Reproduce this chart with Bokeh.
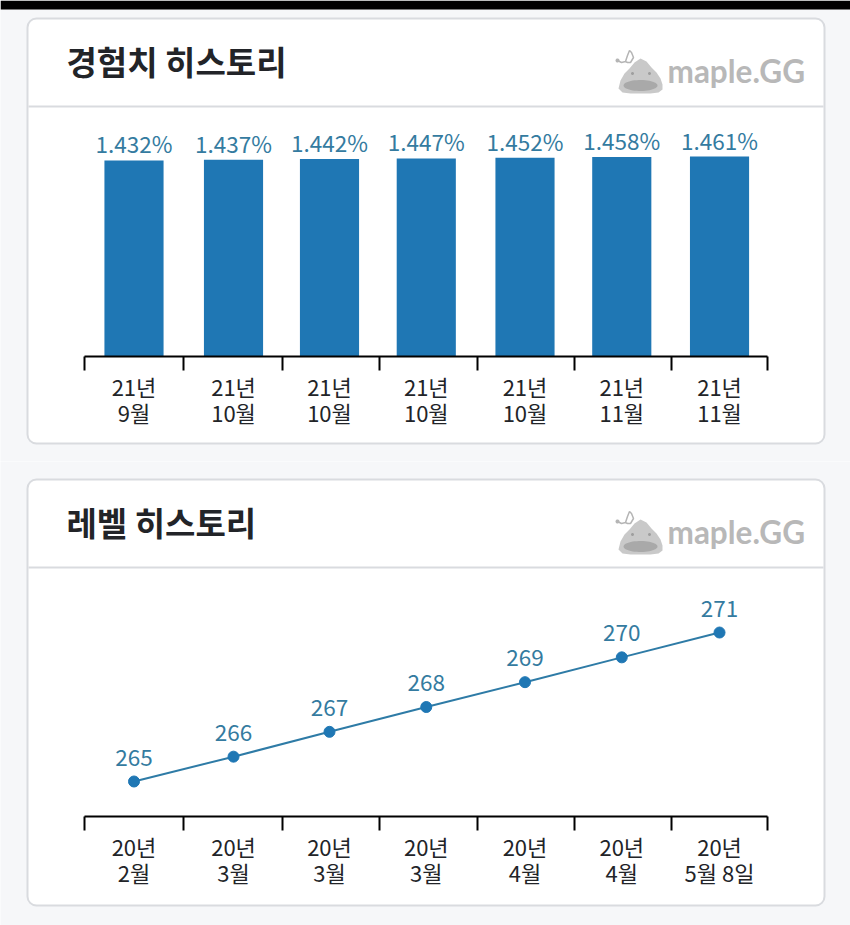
from bokeh.plotting import figure
from bokeh.layouts import column
from bokeh.embed import file_html
from bokeh.resources import INLINE
from bokeh.core.properties import value
from bokeh.models import (BoxAnnotation, Label, PolyAnnotation, LinearAxis, FixedTicker,
                          Range1d, ColumnDataSource)
import numpy as np

# ---- data ----
exp_title = "경험치 히스토리"
exp_values = [1.432, 1.437, 1.442, 1.447, 1.452, 1.458, 1.461]
exp_labels = ["1.432%", "1.437%", "1.442%", "1.447%", "1.452%", "1.458%", "1.461%"]
exp_ticks = ["21년\n9월", "21년\n10월", "21년\n10월", "21년\n10월", "21년\n10월", "21년\n11월", "21년\n11월"]

lvl_title = "레벨 히스토리"
lvl_values = [265, 266, 267, 268, 269, 270, 271]
lvl_labels = ["265", "266", "267", "268", "269", "270", "271"]
lvl_ticks = ["20년\n2월", "20년\n3월", "20년\n3월", "20년\n3월", "20년\n4월", "20년\n4월", "20년\n5월 8일"]

band_centres = [0.0, 1.018, 2.0, 2.99, 4.0, 4.99, 5.99]
band_edges = [-0.506, 0.506, 1.519, 2.51, 3.51, 4.51, 5.5, 6.48]

FONT = "Noto Sans CJK KR"
BLUE = "#1f77b4"
LABEL = "#347ba0"
INK = "#222428"
RULE = "#d9dbdf"
PAGE = "#f6f7f9"
W = 850
PX = 97.75          # pixels per band
X0 = 133.5          # pixel of the first band centre


def box(p, l, t, r, b, fill, line=None, lw=0, radius=0, level="underlay"):
    p.add_layout(BoxAnnotation(left=l, right=r, top=t, bottom=b,
                               left_units="canvas", right_units="canvas",
                               top_units="canvas", bottom_units="canvas",
                               fill_color=fill, fill_alpha=1,
                               line_color=line, line_width=lw, line_alpha=1 if line else 0,
                               border_radius=radius, level=level, editable=False))


def poly(p, xs, ys, fill=None, line=None, lw=1):
    p.add_layout(PolyAnnotation(xs=list(xs), ys=list(ys), xs_units="canvas", ys_units="canvas",
                                fill_color=fill, fill_alpha=1 if fill else 0,
                                line_color=line, line_alpha=1 if line else 0,
                                line_width=lw, level="underlay"))


def logo(p, dy):
    t = np.linspace(0, 2 * np.pi, 50)
    bx = [618, 620, 624, 629, 634, 640, 646, 651, 656, 660, 662, 662, 658, 650, 640, 630, 622, 618]
    by = [88, 80, 73, 68, 62, 58, 61, 67, 72, 78, 84, 89, 92, 93, 93, 93, 92, 88]
    poly(p, bx, [y + dy for y in by], fill="#c9c9c9")
    poly(p, 640 + 17 * np.cos(t), 85 + dy + 5.5 * np.sin(t), fill="#a9a9a9")
    for ex in (632, 649):
        poly(p, ex + 1.5 * np.cos(t), 73 + dy + 1.5 * np.sin(t), fill="#9f9f9f")
    ax = [617, 621, 625, 627, 629, 631, 633, 630, 627, 625]
    ay = [60, 62, 61, 55, 50, 52, 57, 62, 62, 61]
    poly(p, ax + ax[::-1], [y + dy for y in ay + ay[::-1]], line="#b5b5b5", lw=1.5)
    poly(p, 617 + 2 * np.cos(t), 60 + dy + 2 * np.sin(t), fill="#b5b5b5")
    p.add_layout(Label(x=667, y=70 + dy, x_units="canvas", y_units="canvas", text="maple.GG",
                       text_font="Lato", text_font_style="bold", text_font_size="31.5px",
                       text_color="#b8b8b8", text_align="left", text_baseline="middle"))


def card(p, title, top, bottom, divider, dy):
    box(p, 27, top, 824, bottom, "#ffffff", RULE, 2, 9)
    box(p, 28, divider, 823, divider + 2, RULE)
    p.add_layout(Label(x=66, y=top + 42, x_units="canvas", y_units="canvas", text=title,
                       text_font=FONT, text_font_style="bold", text_font_size="33px",
                       text_color=INK, text_align="left", text_baseline="middle"))
    logo(p, dy)


def make(height, axis_y, base, px_per_unit, ticks):
    """The frame fills the whole figure, so the card and logo are not clipped."""
    p = figure(width=W, height=height, output_backend="svg", toolbar_location=None,
               x_range=Range1d(-X0 / PX, (W - X0) / PX),
               y_range=Range1d(base - (height - axis_y) / px_per_unit, base + axis_y / px_per_unit),
               x_axis_type=None, y_axis_type=None,
               min_border_left=0, min_border_right=0, min_border_top=0, min_border_bottom=0,
               background_fill_color=PAGE, border_fill_color=PAGE, outline_line_color=None)
    p.grid.visible = False

    tick_axis = LinearAxis(ticker=FixedTicker(ticks=band_edges), fixed_location=base,
                           bounds=(band_edges[0], band_edges[-1]))
    tick_axis.axis_line_color = "#000000"
    tick_axis.axis_line_width = 2
    tick_axis.major_tick_line_color = "#000000"
    tick_axis.major_tick_line_width = 2
    tick_axis.major_tick_in = 0
    tick_axis.major_tick_out = 14
    tick_axis.minor_tick_line_color = None
    tick_axis.major_label_overrides = {e: "" for e in band_edges}
    p.add_layout(tick_axis, "below")

    label_axis = LinearAxis(ticker=FixedTicker(ticks=band_centres), fixed_location=base)
    label_axis.axis_line_color = None
    label_axis.major_tick_line_color = None
    label_axis.minor_tick_line_color = None
    label_axis.major_tick_in = 0
    label_axis.major_tick_out = 0
    label_axis.major_label_standoff = 13
    label_axis.major_label_overrides = dict(zip(band_centres, ticks))
    label_axis.major_label_text_font = FONT
    label_axis.major_label_text_font_size = "22px"
    label_axis.major_label_text_color = INK
    label_axis.major_label_text_line_height = 0.83
    p.add_layout(label_axis, "below")
    return p


# ---- experience bars ----
p1 = make(461, 356, 0, 200 / 1.461, exp_ticks)
box(p1, 0, 0, W, 9, "#000000")
card(p1, exp_title, 18, 443, 105, 0)
s1 = ColumnDataSource(dict(x=band_centres, y=exp_values, t=exp_labels))
p1.vbar(x="x", top="y", width=0.605, bottom=0, source=s1, fill_color=BLUE, line_color=None)
p1.text(x="x", y="y", text="t", source=s1, text_font=value(FONT), text_font_size="22.5px",
        text_color=LABEL, text_align="center", text_baseline="bottom", y_offset=-1)

# ---- level line ----
p2 = make(464, 816 - 461, 265 - 35 / 24.83, 24.83, lvl_ticks)
card(p2, lvl_title, 479 - 461, 905 - 461, 566 - 461, 0)
s2 = ColumnDataSource(dict(x=band_centres, y=lvl_values, t=lvl_labels))
p2.line(x="x", y="y", source=s2, line_color="#2e7ba6", line_width=2)
p2.scatter(x="x", y="y", source=s2, size=11, fill_color=BLUE, line_color=BLUE)
p2.text(x="x", y="y", text="t", source=s2, text_font=value(FONT), text_font_size="22.5px",
        text_color=LABEL, text_align="center", text_baseline="bottom", y_offset=-16)

page = column(p1, p2, spacing=0)
open("out.html", "w").write(file_html(page, INLINE))
